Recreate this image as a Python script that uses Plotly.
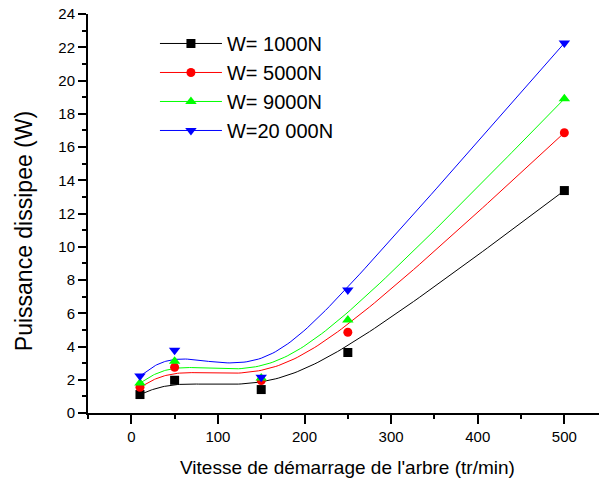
import numpy as np
import plotly.graph_objects as go

# ---- data ----
speed = [10, 50, 150, 250, 500]
w1000 = [1.11, 1.97, 1.41, 3.64, 13.38]
w5000 = [1.55, 2.75, 1.95, 4.86, 16.86]
w9000 = [1.80, 3.12, 2.10, 5.59, 18.90]
w20000 = [2.22, 3.78, 2.15, 7.40, 22.25]

series_names = ["W= 1000N", "W= 5000N", "W= 9000N", "W=20 000N"]
series_vals = [w1000, w5000, w9000, w20000]
series_colors = ["#000000", "#FF0000", "#00FF00", "#0000FF"]
series_symbols = ["square", "circle", "triangle-up", "triangle-down"]
series_sizes = [9, 9, 10, 10]

x_ticks = [0, 100, 200, 300, 400, 500]
y_ticks = [0, 2, 4, 6, 8, 10, 12, 14, 16, 18, 20, 22, 24]

FONT = "Arial, Liberation Sans, sans-serif"


def bspline(xs, ys, n=30):
    """Uniform cubic B-spline using the data points as control points
    (end points tripled so the curve starts/ends on the first/last point)."""
    px = [xs[0]] * 2 + list(xs) + [xs[-1]] * 2
    py = [ys[0]] * 2 + list(ys) + [ys[-1]] * 2
    ox, oy = [], []
    nseg = len(px) - 3
    for i in range(nseg):
        ts = np.linspace(0, 1, n, endpoint=(i == nseg - 1))
        for t in ts:
            b0 = (1 - t) ** 3 / 6
            b1 = (3 * t ** 3 - 6 * t ** 2 + 4) / 6
            b2 = (-3 * t ** 3 + 3 * t ** 2 + 3 * t + 1) / 6
            b3 = t ** 3 / 6
            ox.append(b0 * px[i] + b1 * px[i + 1] + b2 * px[i + 2] + b3 * px[i + 3])
            oy.append(b0 * py[i] + b1 * py[i + 1] + b2 * py[i + 2] + b3 * py[i + 3])
    return ox, oy


fig = go.Figure()

# smooth curves
for name, vals, col in zip(series_names, series_vals, series_colors):
    cx, cy = bspline(speed, vals)
    fig.add_trace(go.Scatter(x=cx, y=cy, mode="lines", line=dict(color=col, width=1),
                             showlegend=False, legendgroup=name, hoverinfo="skip"))

# markers (isolated points so that no straight segment is drawn,
# while the legend still shows line + symbol)
for name, vals, col, sym, sz in zip(series_names, series_vals, series_colors,
                                    series_symbols, series_sizes):
    mx, my = [], []
    for xv, yv in zip(speed, vals):
        mx += [xv, None]
        my += [yv, None]
    fig.add_trace(go.Scatter(x=mx, y=my, mode="lines+markers", name=name,
                             legendgroup=name,
                             line=dict(color=col, width=1),
                             marker=dict(symbol=sym, size=sz, color=col,
                                         line=dict(width=0)),
                             connectgaps=False))

axis_common = dict(
    showline=True, linecolor="black", linewidth=2, mirror=False,
    showgrid=False, zeroline=False, ticks="outside", tickcolor="black",
    tickwidth=1.5, tickfont=dict(family=FONT, size=15, color="black"),
)

fig.update_xaxes(range=[-50, 540], tickmode="array", tickvals=x_ticks,
                 ticklen=9,
                 minor=dict(dtick=50, tick0=0, ticks="outside", ticklen=4,
                            tickcolor="black", tickwidth=1.5),
                 **axis_common)
fig.update_yaxes(range=[0, 24], tickmode="array", tickvals=y_ticks,
                 ticklen=8,
                 minor=dict(dtick=1, tick0=0, ticks="outside", ticklen=4,
                            tickcolor="black", tickwidth=1.5),
                 **axis_common)

fig.add_annotation(text="Vitesse de démarrage de l'arbre (tr/min)",
                   xref="paper", yref="paper", x=0.507, y=-0.137,
                   xanchor="center", yanchor="middle", showarrow=False,
                   font=dict(family=FONT, size=19, color="black"))
fig.add_annotation(text="Puissance dissipee (W)", textangle=-90,
                   xref="paper", yref="paper", x=-0.125, y=0.456,
                   xanchor="center", yanchor="middle", showarrow=False,
                   font=dict(family=FONT, size=23, color="black"))

fig.update_layout(
    width=599, height=486,
    margin=dict(l=88, r=0, t=14, b=73),
    paper_bgcolor="white", plot_bgcolor="white",
    font=dict(family=FONT, color="black"),
    legend=dict(x=0.131, y=0.975, xanchor="left", yanchor="top",
                font=dict(family=FONT, size=20, color="black"),
                bgcolor="rgba(0,0,0,0)", borderwidth=0,
                itemwidth=62, tracegroupgap=1, traceorder="normal"),
)

fig.write_html("out.html")
